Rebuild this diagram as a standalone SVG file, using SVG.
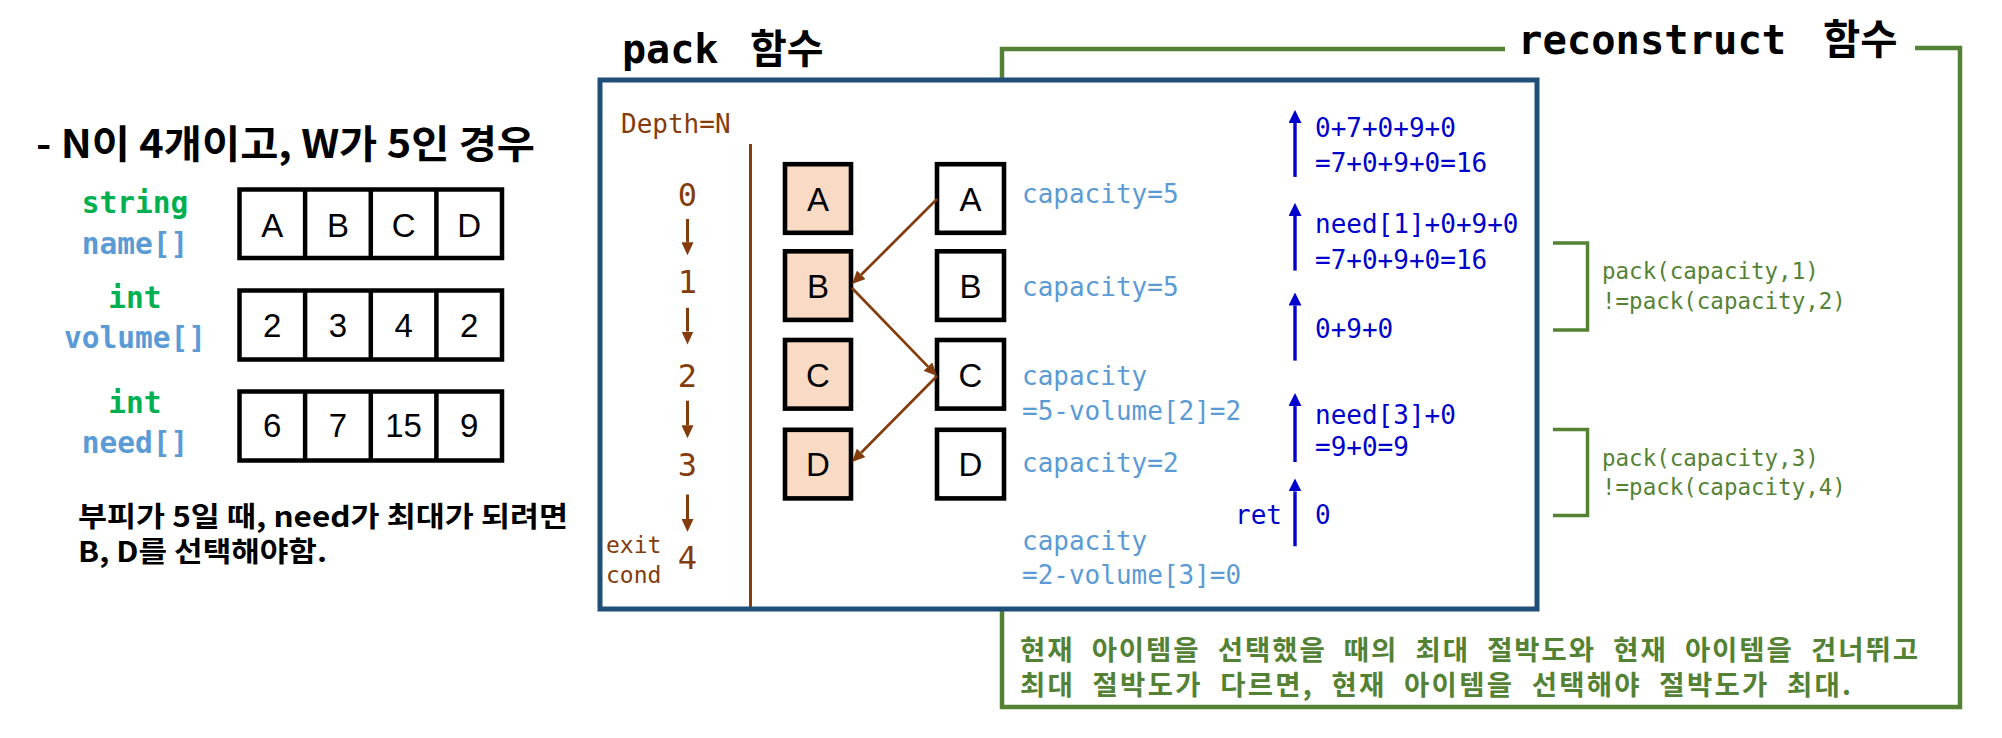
<svg xmlns="http://www.w3.org/2000/svg" width="2002" height="738" viewBox="0 0 2002 738">
<style>
.kr{font-family:"Noto Sans CJK KR","Noto Sans",sans-serif;font-weight:bold}
.mono{font-family:"DejaVu Sans Mono","Noto Sans CJK KR",monospace}
.b{font-weight:bold}
.cell{fill:#fff;stroke:#000;stroke-width:4.5}
.node{stroke:#000;stroke-width:4.6}
.sel{fill:#f9dac4}
.unsel{fill:#fff}
.lt{font-family:"Liberation Sans",Arial,sans-serif;font-size:33px;text-anchor:middle;fill:#000}
.typ{fill:#00b050;font-size:29.5px;text-anchor:middle;font-weight:bold}
.var{fill:#5b9bd5;font-size:29.5px;text-anchor:middle;font-weight:bold}
.cap{fill:#5b9bd5;font-size:26px}
.blu{fill:#0000cc;font-size:26px}
.brn{fill:#843c0c}
.grn{fill:#548235;font-size:22.5px}
.conn{stroke:#843c0c;stroke-width:2.7;fill:none}
.darr{stroke:#843c0c;stroke-width:3;fill:none}
.barr{stroke:#0000cc;stroke-width:3.4;fill:none}
.gline{stroke:#548235;stroke-width:4.5;fill:none}
.brk{stroke:#548235;stroke-width:3.5;fill:none}
</style>
<defs>
<marker id="hb" viewBox="0 0 13 12" refX="0" refY="6" markerWidth="13" markerHeight="12" markerUnits="userSpaceOnUse" orient="auto"><path d="M0,0 L13,6 L0,12 z" fill="#843c0c"/></marker>
<marker id="hu" viewBox="0 0 13 13" refX="0" refY="6.5" markerWidth="13" markerHeight="13" markerUnits="userSpaceOnUse" orient="auto"><path d="M0,0 L13,6.5 L0,13 z" fill="#0000cc"/></marker>
</defs>
<rect width="2002" height="738" fill="#fff"/>

<g id="left-panel">
<text class="kr" x="36" y="158" font-size="39" textLength="499" lengthAdjust="spacingAndGlyphs">- N이 4개이고, W가 5인 경우</text>
<g id="array-name">
<text class="mono typ" x="135" y="213">string</text>
<text class="mono var" x="135" y="254">name[]</text>
<rect class="cell" x="239.5" y="189.5" width="262.5" height="68.5"/>
<path d="M305.1,189.5V258M370.8,189.5V258M436.4,189.5V258" stroke="#000" stroke-width="4.5"/>
<text class="lt" x="272.3" y="236.7">A</text><text class="lt" x="337.9" y="236.7">B</text><text class="lt" x="403.6" y="236.7">C</text><text class="lt" x="469.2" y="236.7">D</text>
</g>
<g id="array-volume">
<text class="mono typ" x="135" y="308">int</text>
<text class="mono var" x="135" y="348">volume[]</text>
<rect class="cell" x="239.5" y="290.5" width="262.5" height="69"/>
<path d="M305.1,290.5V359.5M370.8,290.5V359.5M436.4,290.5V359.5" stroke="#000" stroke-width="4.5"/>
<text class="lt" x="272.3" y="337.3">2</text><text class="lt" x="337.9" y="337.3">3</text><text class="lt" x="403.6" y="337.3">4</text><text class="lt" x="469.2" y="337.3">2</text>
</g>
<g id="array-need">
<text class="mono typ" x="135" y="413">int</text>
<text class="mono var" x="135" y="453">need[]</text>
<rect class="cell" x="239.5" y="391.5" width="262.5" height="69"/>
<path d="M305.1,391.5V460.5M370.8,391.5V460.5M436.4,391.5V460.5" stroke="#000" stroke-width="4.5"/>
<text class="lt" x="272.3" y="437.3">6</text><text class="lt" x="337.9" y="437.3">7</text><text class="lt" x="403.6" y="437.3">15</text><text class="lt" x="469.2" y="437.3">9</text>
</g>
<text class="kr" x="78" y="527" font-size="28" textLength="490" lengthAdjust="spacingAndGlyphs">부피가 5일 때, need가 최대가 되려면</text>
<text class="kr" x="78" y="562" font-size="28" textLength="249" lengthAdjust="spacingAndGlyphs">B, D를 선택해야함.</text>
</g>

<g id="reconstruct-frame">
<path class="gline" d="M1505,49 H1002 V707 H1960 V48 H1915"/>
<text class="mono b" x="1518" y="53.5" font-size="40.5">reconstruct<tspan x="1823">함수</tspan></text>
<text class="kr" x="1020" y="660" font-size="27.5" fill="#548235" word-spacing="9" textLength="898" lengthAdjust="spacing">현재 아이템을 선택했을 때의 최대 절박도와 현재 아이템을 건너뛰고</text>
<text class="kr" x="1020" y="695" font-size="27.5" fill="#548235" word-spacing="9" textLength="831" lengthAdjust="spacing">최대 절박도가 다르면, 현재 아이템을 선택해야 절박도가 최대.</text>
</g>

<g id="pack-frame">
<text class="mono b" x="622" y="62.5" font-size="40">pack<tspan x="750">함수</tspan></text>
<rect x="600" y="80" width="937" height="529" fill="#fff" stroke="#1f4e79" stroke-width="5"/>
<text class="mono brn" x="621" y="132.7" font-size="26">Depth=N</text>
<line x1="750.5" y1="144" x2="750.5" y2="607" stroke="#843c0c" stroke-width="3"/>
</g>

<g id="depth">
<g class="mono brn" font-size="32" text-anchor="middle">
<text x="687.5" y="205.6">0</text>
<text x="687.5" y="292.5">1</text>
<text x="687.5" y="387.4">2</text>
<text x="687.5" y="476.1">3</text>
<text x="687.5" y="569">4</text>
</g>
<text class="mono brn" x="606" y="553" font-size="23">exit</text>
<text class="mono brn" x="606" y="583.3" font-size="23">cond</text>
</g>

<g id="node-A-sel"><rect class="node sel" x="785" y="164.2" width="66" height="68.6"/><text class="lt" x="818" y="211.2">A</text></g>
<g id="node-B-sel"><rect class="node sel" x="785" y="251.3" width="66" height="68.6"/><text class="lt" x="818" y="298">B</text></g>
<g id="node-C-sel"><rect class="node sel" x="785" y="340" width="66" height="68.6"/><text class="lt" x="818" y="386.8">C</text></g>
<g id="node-D-sel"><rect class="node sel" x="785" y="429.8" width="66" height="68.6"/><text class="lt" x="818" y="476.3">D</text></g>
<g id="node-A"><rect class="node unsel" x="937" y="164.2" width="67" height="68.6"/><text class="lt" x="970.5" y="211.2">A</text></g>
<g id="node-B"><rect class="node unsel" x="937" y="251.3" width="67" height="68.6"/><text class="lt" x="970.5" y="298">B</text></g>
<g id="node-C"><rect class="node unsel" x="937" y="340" width="67" height="68.6"/><text class="lt" x="970.5" y="386.8">C</text></g>
<g id="node-D"><rect class="node unsel" x="937" y="429.8" width="67" height="68.6"/><text class="lt" x="970.5" y="476.3">D</text></g>

<g id="capacity-labels" class="mono cap">
<text x="1022" y="202.9">capacity=5</text>
<text x="1022" y="295.5">capacity=5</text>
<text x="1022" y="385.4">capacity</text>
<text x="1022" y="419.9">=5-volume[2]=2</text>
<text x="1022" y="471.5">capacity=2</text>
<text x="1022" y="550">capacity</text>
<text x="1022" y="584.4">=2-volume[3]=0</text>
</g>

<g id="return-labels" class="mono blu">
<text x="1315" y="136.7">0+7+0+9+0</text>
<text x="1315" y="172.3">=7+0+9+0=16</text>
<text x="1315" y="233.1">need[1]+0+9+0</text>
<text x="1315" y="268.7">=7+0+9+0=16</text>
<text x="1315" y="337.6">0+9+0</text>
<text x="1315" y="423.7">need[3]+0</text>
<text x="1315" y="456.2">=9+0=9</text>
<text x="1315" y="524.3">0</text>
<text x="1282" y="524.3" text-anchor="end">ret</text>
</g>

<g id="compare-labels" class="mono grn">
<text x="1602" y="279">pack(capacity,1)</text>
<text x="1602" y="309.3">!=pack(capacity,2)</text>
<text x="1602" y="465.5">pack(capacity,3)</text>
<text x="1602" y="495.4">!=pack(capacity,4)</text>
</g>

<g id="connectors">
<line class="darr" x1="687.5" y1="219" x2="687.5" y2="242.3" marker-end="url(#hb)"/>
<line class="darr" x1="687.5" y1="307.8" x2="687.5" y2="331.5" marker-end="url(#hb)"/>
<line class="darr" x1="687.5" y1="400.7" x2="687.5" y2="425.3" marker-end="url(#hb)"/>
<line class="darr" x1="687.5" y1="494.5" x2="687.5" y2="519" marker-end="url(#hb)"/>
<line class="conn" x1="937" y1="199" x2="861.2" y2="274.8" marker-end="url(#hb)"/>
<line class="conn" x1="852" y1="288" x2="928" y2="366.6" marker-end="url(#hb)"/>
<line class="conn" x1="937" y1="376" x2="861.1" y2="452.8" marker-end="url(#hb)"/>
<line class="barr" x1="1295" y1="176.9" x2="1295" y2="122.9" marker-end="url(#hu)"/>
<line class="barr" x1="1295" y1="270.6" x2="1295" y2="215.9" marker-end="url(#hu)"/>
<line class="barr" x1="1295" y1="360.6" x2="1295" y2="305.5" marker-end="url(#hu)"/>
<line class="barr" x1="1295" y1="462" x2="1295" y2="406.1" marker-end="url(#hu)"/>
<line class="barr" x1="1295" y1="546.2" x2="1295" y2="491.4" marker-end="url(#hu)"/>
<path class="brk" d="M1553,243 H1587.5 V330 H1553"/>
<path class="brk" d="M1553,429.5 H1587.5 V515.5 H1553"/>
</g>
</svg>
